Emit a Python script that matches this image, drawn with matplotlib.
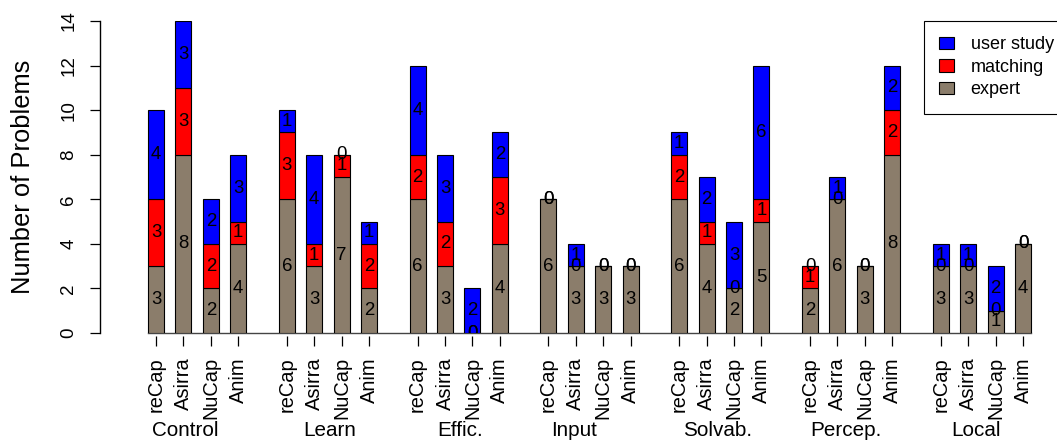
import matplotlib.pyplot as plt
import matplotlib.transforms as mtransforms
from matplotlib.patches import Patch
import numpy as np

plt.rcParams["font.family"] = ["Liberation Sans", "DejaVu Sans"]

groups = ["Control", "Learn", "Effic.", "Input", "Solvab.", "Percep.", "Local"]
captchas = ["reCap", "Asirra", "NuCap", "Anim"]

# counts per bar, groups in order, captchas in order within each group
expert = [3, 8, 2, 4, 6, 3, 7, 2, 6, 3, 0, 4, 6, 3, 3, 3,
          6, 4, 2, 5, 2, 6, 3, 8, 3, 3, 1, 4]
matching = [3, 3, 2, 1, 3, 1, 1, 2, 2, 2, 0, 3, 0, 0, 0, 0,
            2, 1, 0, 1, 1, 0, 0, 2, 0, 0, 0, 0]
user_study = [4, 3, 2, 3, 1, 4, 0, 1, 4, 3, 2, 2, 0, 1, 0, 0,
              1, 2, 3, 6, 0, 1, 0, 2, 1, 1, 2, 0]

colors = {"expert": "#8B7D6B", "matching": "#FF0000", "user study": "#0000FF"}

# layout
group_stride = 4.772
bar_w = 0.584
label_nudge = [-0.44, 0.07, 0.04, -0.58, -0.11, -0.18, -0.22]

n_g, n_c = len(groups), len(captchas)
x = np.array([g * group_stride + i for g in range(n_g) for i in range(n_c)])

fig = plt.figure(figsize=(10.57, 4.45), dpi=100)
W, H = 1057, 445
left, right, top, bottom = 100, 1057, 21, 333
ax = fig.add_axes([left / W, 1 - bottom / H, (right - left) / W, (bottom - top) / H])

px = 27.41  # pixels per bar unit
ax.set_xlim(-(156 - left) / px, (right - 156) / px)
ax.set_ylim(0, 14)

e = np.array(expert)
m = np.array(matching)
u = np.array(user_study)

ax.bar(x, e, bar_w, color=colors["expert"], edgecolor="black", linewidth=0.8)
ax.bar(x, m, bar_w, bottom=e, color=colors["matching"], edgecolor="black", linewidth=0.8)
ax.bar(x, u, bar_w, bottom=e + m, color=colors["user study"], edgecolor="black", linewidth=0.8)

# segment labels at the middle of each segment
for vals, base in [(e, 0 * e), (m, e), (u, e + m)]:
    for xi, v, b in zip(x, vals, base):
        ax.text(xi, b + v / 2, str(v), ha="center", va="center",
                fontsize=13.4, color="black", clip_on=True)

# baseline
ax.plot([x[0] - bar_w / 2, x[-1] + bar_w / 2], [0, 0], color="#444444",
        lw=1.0, clip_on=False, zorder=0)

for s in ["top", "right", "bottom"]:
    ax.spines[s].set_visible(False)
ax.spines["bottom"].set_position(("outward", 2))
ax.spines["left"].set_linewidth(1.0)

ax.set_xticks(x)
ax.set_xticklabels(captchas * n_g, rotation=90, fontsize=14.4)
ax.tick_params(axis="x", length=7.2, width=0.9, pad=8)
for lab in ax.get_xticklabels():
    lab.set_va("top")

ax.set_yticks(range(0, 15, 2))
ax.tick_params(axis="y", length=7.2, width=0.9, pad=9, labelsize=13.5)
for lab in ax.get_yticklabels():
    lab.set_rotation(90)
    lab.set_va("center")

trans = mtransforms.blended_transform_factory(ax.transData, fig.transFigure)
for g, name in enumerate(groups):
    gx = g * group_stride + (n_c - 1) / 2 + label_nudge[g]
    ax.text(gx, 1 - 430 / H, name, transform=trans,
            ha="center", va="center", fontsize=14.9)

fig.text(23 / W, 1 - 177 / H, "Number of Problems", rotation=90,
         ha="center", va="center", fontsize=18.4)

handles = [Patch(facecolor=colors[k], edgecolor="black", linewidth=0.8)
           for k in ["user study", "matching", "expert"]]
leg = ax.legend(handles, ["user study", "matching", "expert"], loc="upper right",
                bbox_to_anchor=(1.0 + 12 / (right - left), 1.0), borderaxespad=0,
                fontsize=13, fancybox=False, framealpha=1, edgecolor="black",
                handlelength=0.83, handleheight=0.66, handletextpad=0.9,
                labelspacing=0.3, borderpad=0.85)
leg.get_frame().set_linewidth(0.8)

fig.savefig("out.png", dpi=100)
